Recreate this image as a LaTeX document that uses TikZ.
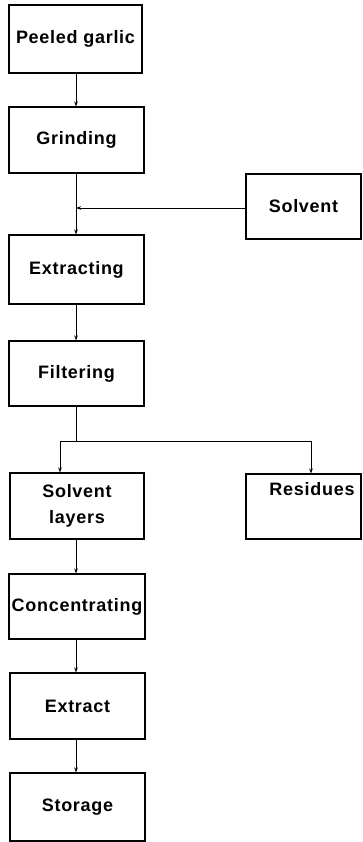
\documentclass[tikz,border=0pt]{standalone}
\usepackage{fontspec}
\setmainfont{Liberation Sans}
\newfontfamily\lblfont[LetterSpace=4]{Liberation Sans}
\usetikzlibrary{arrows.meta}
\begin{document}
\begin{tikzpicture}[x=1pt,y=-1pt,
  lbl/.style={font=\lblfont\fontsize{18}{26}\selectfont\bfseries},
  box/.style={lbl,draw,line width=1.1pt,rectangle,inner sep=0pt,align=center},
  conn/.style={line width=0.9pt},
  arr/.style={conn,-{Stealth[length=5pt,width=3.6pt]}}]
\useasboundingbox (0,0) rectangle (362,842);
\node[box,minimum width=133pt,minimum height=68pt] (pg) at (75.5,39) {Peeled garlic};
\node[box,minimum width=135pt,minimum height=66pt] (gr) at (76.5,140) {Grinding};
\node[box,minimum width=115pt,minimum height=65pt] (sol) at (303.5,206.5) {Solvent};
\node[box,minimum width=135pt,minimum height=69pt] (ex) at (76.5,269.5) {Extracting};
\node[box,minimum width=135pt,minimum height=65pt] (fi) at (76.5,373.5) {Filtering};
\node[box,minimum width=134pt,minimum height=66pt] (sl) at (77,506) {Solvent\\layers};
\node[box,minimum width=115pt,minimum height=65pt] (re) at (303.5,506.5) {};
\node[lbl] (ret) at (312,489) {Residues};
\node[box,minimum width=136pt,minimum height=65pt] (co) at (77,606.5) {Concentrating};
\node[box,minimum width=135pt,minimum height=66pt] (et) at (77.5,706) {Extract};
\node[box,minimum width=135pt,minimum height=68pt] (st) at (77.5,807) {Storage};
\coordinate (j) at (76,208);
\coordinate (s) at (76,441);
\coordinate (sa) at (60,441);
\coordinate (sb) at (311,441);
\draw[arr] (pg.south -| j) -- (gr.north -| j);
\draw[conn] (gr.south -| j) -- (j);
\draw[arr] (j) -- (ex.north -| j);
\draw[arr] (sol.west |- j) -- (j);
\draw[arr] (ex.south -| j) -- (fi.north -| j);
\draw[conn] (fi.south -| s) -- (s);
\draw[conn] (sa) -- (sb);
\draw[arr] (sa) -- (sl.north -| sa);
\draw[arr] (sb) -- (re.north -| sb);
\draw[arr] (sl.south -| j) -- (co.north -| j);
\draw[arr] (co.south -| j) -- (et.north -| j);
\draw[arr] (et.south -| j) -- (st.north -| j);
\end{tikzpicture}
\end{document}
